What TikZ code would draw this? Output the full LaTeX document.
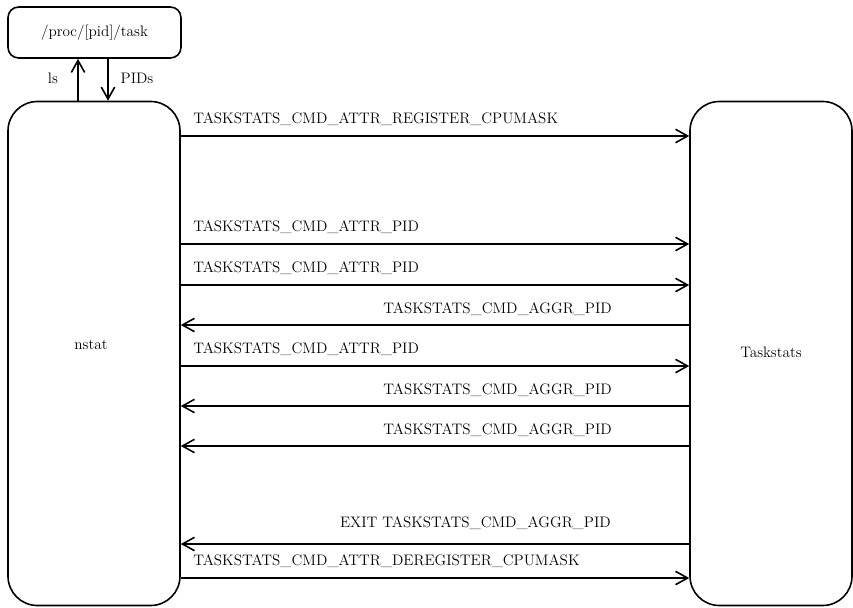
\documentclass[tikz,border=0pt]{standalone}
\usetikzlibrary{arrows.meta}
\tikzset{
  box/.style={draw, line width=1.2pt, rounded corners=22pt, inner sep=0pt},
  msg/.style={line width=1.2pt, -{Straight Barb[length=9pt,width=10pt,line width=1.2pt]}},
  lbl/.style={inner sep=0pt},
}
\begin{document}
\begin{tikzpicture}[x=0.75pt, y=-0.75pt, font=\fontsize{11.4}{13.5}\selectfont]
  \useasboundingbox (0,0) rectangle (853,607);
  %
  \node[box, rounded corners=8pt, minimum width=129.75pt, minimum height=38.25pt] (proc) at (94.5,32.5) {/proc/[pid]/task};
  \node[box, minimum width=129pt, minimum height=378pt] (nstat) at (94,353.5) {};
  \node[box, minimum width=121.5pt, minimum height=378pt] (taskstats) at (771,353.5) {};
  \draw(91,345) node[lbl]{nstat};
  \draw(771,352) node[lbl]{Taskstats};
  %
  \draw[msg] (nstat.north -| 78,0) -- (proc.south -| 78,0);   % ls
  \draw[msg] (proc.south -| 108,0) -- (nstat.north -| 108,0); % PIDs
  \draw(53,78) node[lbl]{ls};
  \draw(137,78) node[lbl]{PIDs};
  %
  % nstat -> Taskstats
  \foreach \y/\txt in {136/TASKSTATS\_CMD\_ATTR\_REGISTER\_CPUMASK,
                      244/TASKSTATS\_CMD\_ATTR\_PID,
                      285/TASKSTATS\_CMD\_ATTR\_PID,
                      366/TASKSTATS\_CMD\_ATTR\_PID,
                      578/TASKSTATS\_CMD\_ATTR\_DEREGISTER\_CPUMASK}{
    \draw[msg] (nstat.east |- 0,\y) -- (taskstats.west |- 0,\y);
    \draw(193,\y-17) node[lbl, anchor=west]{\txt};
  }
  %
  % Taskstats -> nstat
  \foreach \y/\txt in {325/TASKSTATS\_CMD\_AGGR\_PID,
                      406/TASKSTATS\_CMD\_AGGR\_PID,
                      446/TASKSTATS\_CMD\_AGGR\_PID}{
    \draw[msg] (taskstats.west |- 0,\y) -- (nstat.east |- 0,\y);
    \draw(612,\y-16) node[lbl, anchor=east]{\txt};
  }
  \draw[msg] (taskstats.west |- 0,544) -- (nstat.east |- 0,544);
  \draw(611,523) node[lbl, anchor=east]{EXIT TASKSTATS\_CMD\_AGGR\_PID};
\end{tikzpicture}
\end{document}
